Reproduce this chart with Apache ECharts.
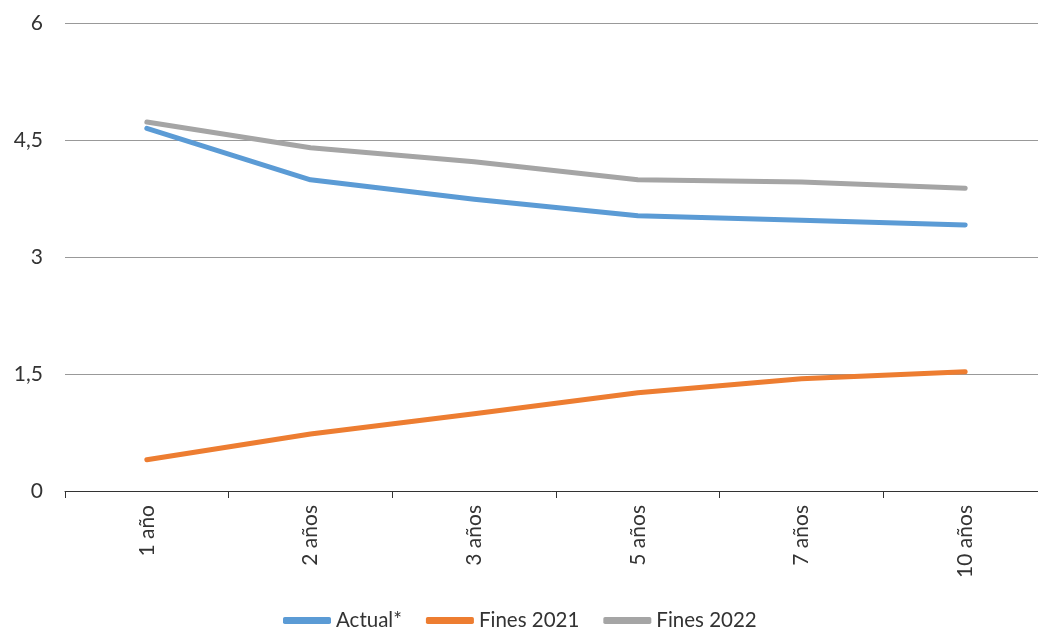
<!DOCTYPE html>
<html>
<head>
<meta charset="utf-8">
<script src="https://cdn.jsdelivr.net/npm/echarts@6/dist/echarts.min.js"></script>
<style>
  html, body { margin: 0; padding: 0; background: #fff; }
  #chart { width: 1038px; height: 631px; }
</style>
</head>
<body>
<div id="chart"></div>
<script>
var categories = ['1 año', '2 años', '3 años', '5 años', '7 años', '10 años'];
var actual = [4.65, 3.99, 3.74, 3.53, 3.47, 3.41];
var fines2021 = [0.40, 0.73, 0.99, 1.26, 1.44, 1.53];
var fines2022 = [4.73, 4.40, 4.22, 3.99, 3.96, 3.88];

var chartDom = document.getElementById('chart');
var myChart = echarts.init(chartDom);
var fontFam = 'Lato, "Open Sans", sans-serif';

function lineSeries(name, data, color) {
  return {
    name: name,
    type: 'line',
    data: data,
    symbol: 'none',
    lineStyle: { width: 5, color: color, cap: 'round', join: 'round' },
    itemStyle: { color: color }
  };
}

var option = {
  animation: false,
  textStyle: { fontFamily: fontFam },
  grid: { left: 65, right: -9, top: 23, bottom: 140, outerBoundsMode: 'none', containLabel: false },
  legend: {
    top: 605,
    left: 278,
    icon: 'roundRect',
    itemWidth: 48,
    itemHeight: 7,
    itemGap: 24,
    textStyle: { fontSize: 20.5, color: '#333', fontFamily: fontFam },
    data: ['Actual*', 'Fines 2021', 'Fines 2022']
  },
  xAxis: {
    type: 'category',
    data: categories,
    boundaryGap: true,
    axisLine: { lineStyle: { color: '#333', width: 1 } },
    axisTick: { show: true, length: 7, lineStyle: { color: '#333' } },
    axisLabel: { rotate: 90, fontSize: 21, color: '#333', margin: 14 }
  },
  yAxis: {
    type: 'value',
    min: 0,
    max: 6,
    interval: 1.5,
    axisLine: { show: false },
    axisTick: { show: false },
    splitLine: { lineStyle: { color: '#999', width: 1 } },
    axisLabel: {
      fontSize: 21,
      color: '#333',
      margin: 22,
      formatter: function (v) { return String(v).replace('.', ','); }
    }
  },
  series: [
    lineSeries('Actual*', actual, '#5B9BD5'),
    lineSeries('Fines 2021', fines2021, '#ED7D31'),
    lineSeries('Fines 2022', fines2022, '#A5A5A5')
  ]
};

myChart.setOption(option);
</script>
</body>
</html>
